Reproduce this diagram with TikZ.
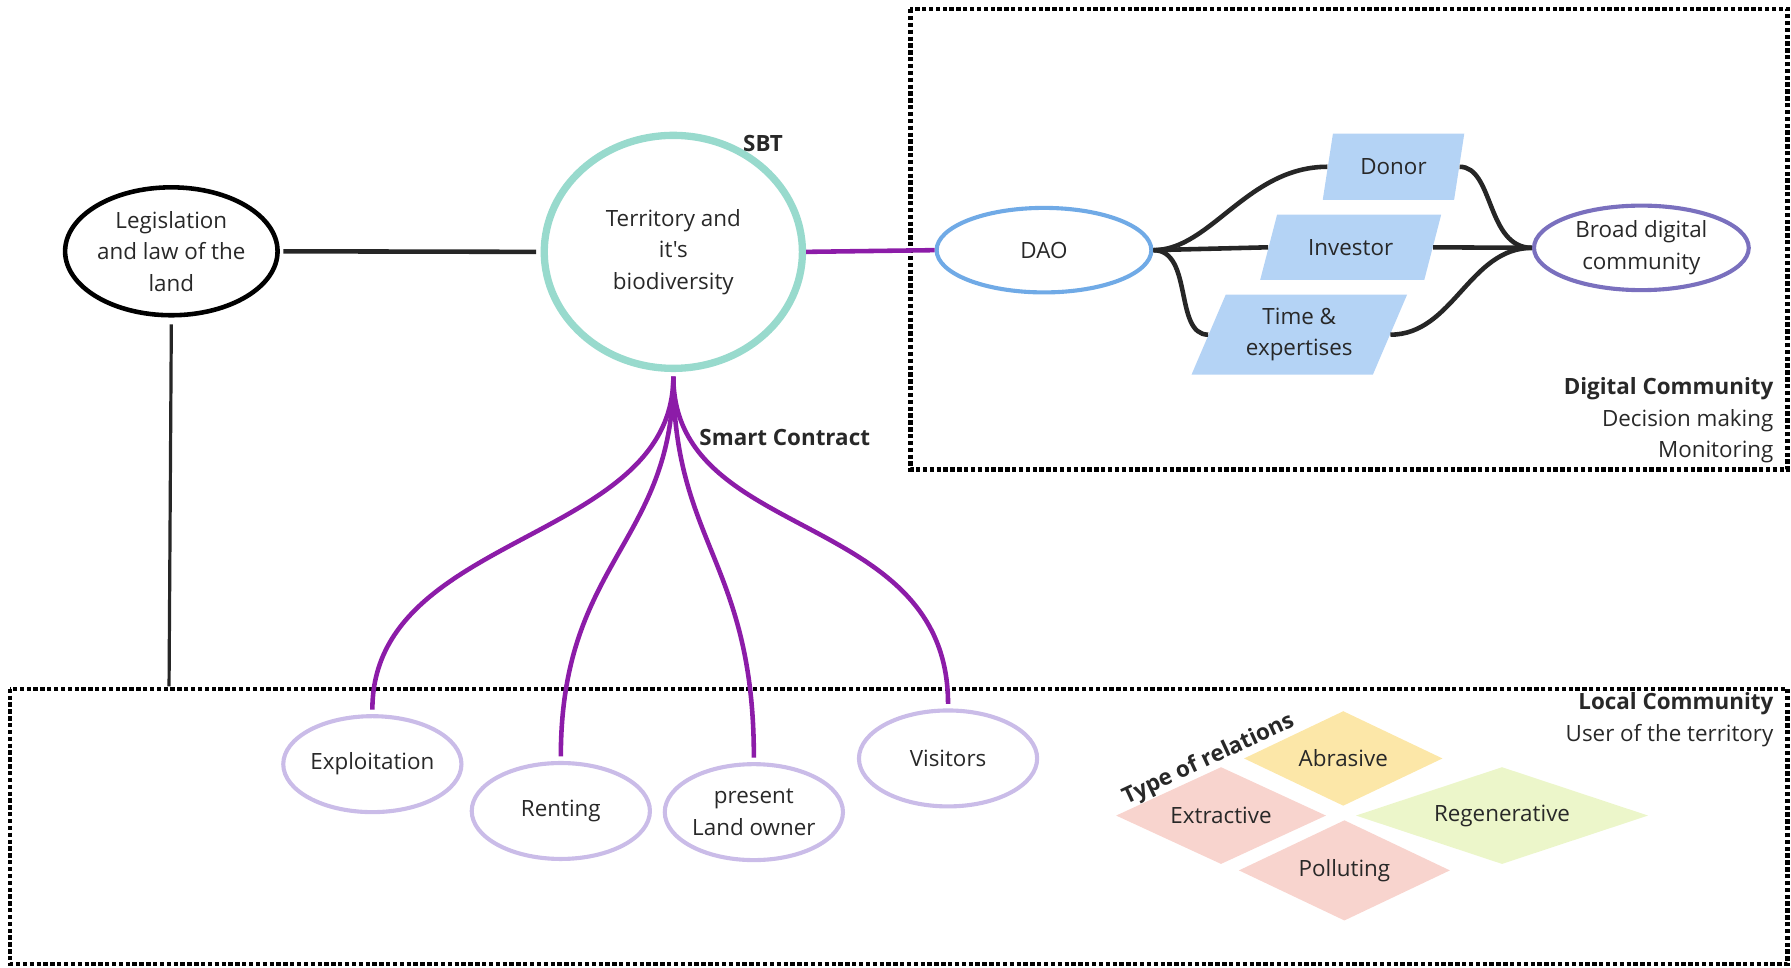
\documentclass[tikz,border=0pt]{standalone}
\usepackage{fontspec}
\setmainfont{Open Sans}[Ligatures=TeXOff]
\usetikzlibrary{shapes.geometric}
\definecolor{txt}{RGB}{40,40,40}
\definecolor{tealc}{RGB}{152,218,205}
\definecolor{purc}{RGB}{140,28,168}
\definecolor{daoc}{RGB}{112,170,230}
\definecolor{broadc}{RGB}{122,112,190}
\definecolor{parac}{RGB}{180,211,245}
\definecolor{lavc}{RGB}{202,188,232}
\definecolor{yelc}{RGB}{252,231,168}
\definecolor{pinkc}{RGB}{248,212,206}
\definecolor{greenc}{RGB}{236,246,202}
\tikzset{
  base/.style={font=\fontsize{9.8}{13.75}\selectfont, text=txt, align=center},
  lbl/.style={font=\fontsize{9.8}{13.75}\selectfont\bfseries, text=txt},
  ell/.style={base, ellipse, draw, inner sep=0pt},
  para/.style={base, trapezium, trapezium stretches=true, fill=parac, inner sep=0pt},
  dia/.style={base, diamond, inner sep=0pt},
  dotbox/.style={line width=1.9pt, dash pattern=on 1.9pt off 1.1pt},
  blk/.style={line width=2pt, black!85},
  pur/.style={line width=2pt, purc},
}
\begin{document}
\begin{tikzpicture}[x=0.5pt,y=-0.5pt]
\useasboundingbox (0,0) rectangle (1568,847);
% containers
\draw[dotbox] (797,8) rectangle (1565,411);
\draw[dotbox] (9,603) rectangle (1565,844);
% main nodes
\node[ell, line width=2pt, minimum width=93pt, minimum height=56pt] (law) at (150,220) {Legislation\\and law of the\\land};
\node[ell, draw=tealc, line width=3.2pt, minimum width=113pt, minimum height=102pt] (terr) at (589.5,220.5) {Territory and\\it's\\biodiversity};
\node[lbl] (sbt) at (668,126) {SBT};
\node[ell, draw=daoc, line width=1.8pt, minimum width=94pt, minimum height=37pt] (dao) at (914,219) {DAO};
\node[ell, draw=broadc, line width=1.8pt, minimum width=94pt, minimum height=37pt] (broad) at (1437,217) {Broad digital\\community};
\node[para, trapezium left angle=71, trapezium right angle=109, minimum width=62pt, minimum height=29pt] (donor) at (1220,146) {Donor};
\node[para, trapezium left angle=59, trapezium right angle=121, minimum width=79.5pt, minimum height=28.5pt] (inv) at (1182.5,216.5) {Investor};
\node[para, trapezium left angle=65, trapezium right angle=115, minimum width=94.5pt, minimum height=35pt] (time) at (1137.5,293) {Time \&\\expertises};
\node[base, anchor=east, align=right, inner sep=0pt] (dc) at (1553,368) {\textbf{Digital Community}\\Decision making\\Monitoring};
\node[lbl] (sc) at (687,383) {Smart Contract};
% local community
\node[ell, draw=lavc, line width=1.8pt, minimum width=78pt, minimum height=42pt] (expl) at (326,669) {Exploitation};
\node[ell, draw=lavc, line width=1.8pt, minimum width=78pt, minimum height=42pt] (rent) at (491,710) {Renting};
\node[ell, draw=lavc, line width=1.8pt, minimum width=78pt, minimum height=42pt] (owner) at (660,711) {present\\Land owner};
\node[ell, draw=lavc, line width=1.8pt, minimum width=78pt, minimum height=42pt] (vis) at (830,664) {Visitors};
\node[base, anchor=east, align=right, inner sep=0pt] (lc) at (1553,630) {\textbf{Local Community}\\User of the territory};
% relations
\node[dia, fill=yelc, minimum width=87pt, minimum height=41.5pt, shape aspect=2.1] (abr) at (1176,664) {Abrasive};
\node[dia, fill=pinkc, minimum width=92pt, minimum height=42.5pt, shape aspect=2.1] (ext) at (1069,714) {Extractive};
\node[dia, fill=pinkc, minimum width=92.5pt, minimum height=44pt, shape aspect=2.1] (pol) at (1177,762) {Polluting};
\node[dia, fill=greenc, minimum width=128pt, minimum height=42.5pt, shape aspect=3] (reg) at (1315,714) {Regenerative};
\node[lbl, rotate=25] (tor) at (1058,665) {Type of relations};
% connectors
\coordinate (lawend) at (148,601);
\draw[blk] (law.east) ++(3,0) -- ([xshift=-2pt]terr.west);
\draw[line width=1.4pt, black!85] ([yshift=-3pt]law.south) -- (lawend);
\draw[pur] (terr.east) -- (dao.west);
\draw[blk] (dao.east) .. controls +(50,0) and +(-70,0) .. (donor.left side);
\draw[blk] (dao.east) -- (inv.left side);
\draw[blk] (dao.east) .. controls +(35,0) and +(-30,0) .. (time.left side);
\draw[blk] (donor.right side) .. controls +(30,0) and +(-40,0) .. (broad.west);
\draw[blk] (inv.right side) -- (broad.west);
\draw[blk] (time.right side) .. controls +(55,0) and +(-55,0) .. (broad.west);
\draw[pur, shorten <=2pt, shorten >=2pt] (terr.south) .. controls +(0,150) and +(0,-160) .. (expl.north);
\draw[pur, shorten <=2pt, shorten >=2pt] (terr.south) .. controls +(0,150) and +(0,-175) .. (rent.north);
\draw[pur, shorten <=2pt, shorten >=2pt] (terr.south) .. controls +(0,150) and +(0,-175) .. (owner.north);
\draw[pur, shorten <=2pt, shorten >=2pt] (terr.south) .. controls +(0,150) and +(0,-175) .. (vis.north);
\end{tikzpicture}
\end{document}
